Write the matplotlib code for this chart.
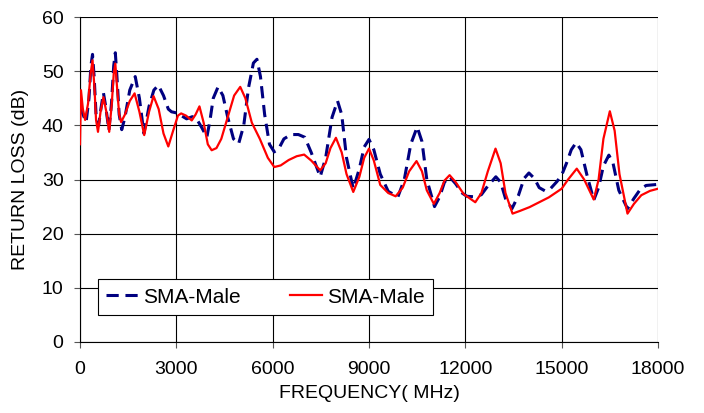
import matplotlib
matplotlib.use("Agg")
import matplotlib.pyplot as plt

freq_blue = [0, 60, 190, 280, 340, 390, 440, 500, 580, 650, 730, 800, 900, 980, 1050, 1100, 1150, 1220, 1300, 1400, 1550, 1720, 1850, 1990, 2150, 2300, 2440, 2600, 2750, 2850, 3000, 3150, 3320, 3500, 3650, 3800, 3950, 4050, 4150, 4300, 4450, 4600, 4780, 4940, 5100, 5250, 5400, 5510, 5620, 5750, 5900, 6050, 6200, 6350, 6570, 6800, 7000, 7200, 7480, 7650, 7850, 8020, 8150, 8300, 8510, 8700, 8850, 9000, 9150, 9350, 9600, 9900, 10100, 10300, 10500, 10650, 10800, 11040, 11200, 11350, 11510, 11700, 11900, 12050, 12300, 12500, 12700, 12950, 13100, 13250, 13450, 13650, 13830, 13980, 14150, 14300, 14480, 14650, 14850, 15000, 15150, 15300, 15450, 15600, 15780, 16000, 16150, 16300, 16470, 16600, 16780, 17050, 17250, 17450, 17630, 18000]
rl_blue = [43.5, 42.5, 40.6, 45, 51, 53.1, 49, 42, 40.0, 43, 46.0, 43.5, 39.1, 44, 51, 53.4, 49, 42, 39.2, 41.5, 46.5, 49.0, 45, 38.5, 43.5, 46.5, 47.4, 45.5, 43, 42.5, 42.3, 41.8, 41.2, 41.6, 41, 39.5, 37.8, 41, 45, 47.1, 45.5, 41.5, 37.5, 36.6, 40, 47, 51.5, 52.2, 49, 42, 36.5, 35.1, 35.8, 37.5, 38.3, 38.3, 37.8, 35, 30.5, 34, 41.5, 44.5, 42, 34, 28.3, 32, 36, 37.4, 35.5, 31, 27.8, 26.8, 30, 36.5, 39.7, 37, 30, 25.0, 26.8, 29.5, 30.5, 29.2, 27.5, 26.9, 26.8, 27.2, 28.8, 30.5, 29.5, 26.5, 24.6, 27, 30.2, 31.2, 30.2, 28.5, 27.9, 28.3, 29.6, 30.8, 33, 35.5, 36.8, 35.5, 31, 26.2, 28.5, 32.5, 34.5, 33, 28, 24.6, 26.5, 28.2, 28.9, 29.1]

freq_red = [0, 30, 90, 160, 250, 330, 390, 450, 500, 560, 640, 730, 820, 910, 990, 1050, 1100, 1160, 1220, 1280, 1400, 1550, 1700, 1850, 2000, 2150, 2290, 2450, 2600, 2750, 2900, 3050, 3150, 3300, 3480, 3600, 3720, 3850, 3980, 4100, 4250, 4400, 4600, 4800, 4990, 5150, 5350, 5600, 5850, 6050, 6250, 6500, 6750, 6980, 7200, 7480, 7650, 7800, 7970, 8150, 8300, 8510, 8700, 8850, 9000, 9150, 9350, 9600, 9830, 10050, 10250, 10480, 10650, 10800, 11020, 11200, 11350, 11510, 11700, 11950, 12310, 12500, 12700, 12940, 13100, 13250, 13470, 13700, 14000, 14300, 14600, 15000, 15200, 15470, 15700, 16000, 16150, 16300, 16500, 16650, 16800, 17050, 17250, 17480, 17750, 18000]
rl_red = [36.5, 46.5, 43, 41, 44, 49.5, 52, 47, 41, 38.8, 42.5, 45.2, 42.5, 38.8, 44, 49.5, 51.4, 46.5, 42, 40.6, 42, 44.5, 45.9, 42.5, 38.2, 42.5, 45.4, 43, 38.5, 36.1, 39, 41.8, 42.2, 41.8, 40.9, 42, 43.5, 40.5, 36.5, 35.4, 35.8, 37.5, 41.5, 45.5, 47.1, 45, 40.5, 37.5, 34, 32.3, 32.6, 33.6, 34.3, 34.6, 33.5, 31.7, 33, 35.8, 37.7, 35, 31, 27.7, 30.5, 34, 35.7, 33.5, 29, 27.5, 26.9, 28.5, 31.5, 33.4, 31.5, 28, 25.5, 27.5, 29.8, 30.8, 29.5, 27.3, 25.8, 27.5, 31.5, 35.7, 33, 27.5, 23.7, 24.2, 24.9, 25.8, 26.7, 28.3, 30, 32.0, 30, 26.3, 30, 37.5, 42.6, 39, 31, 23.7, 25.5, 27.1, 27.9, 28.3]

labels = ["SMA-Male", "SMA-Male"]
x_ticks = [0, 3000, 6000, 9000, 12000, 15000, 18000]
y_ticks = [0, 10, 20, 30, 40, 50, 60]

plt.rcParams['font.family'] = ['Liberation Sans', 'DejaVu Sans']

fig = plt.figure(figsize=(7.04, 4.13), dpi=100)
ax = fig.add_axes([80/704, 1-342/413, 578/704, 325/413])

ax.plot(freq_blue, rl_blue, color='#000080', lw=2.2, linestyle=(0, (4, 2.2)), label=labels[0], zorder=3)
ax.plot(freq_red, rl_red, color='#FF0000', lw=1.6, label=labels[1], zorder=4)

ax.set_xlim(0, 18000)
ax.set_ylim(0, 60)
ax.set_xticks(x_ticks)
ax.set_yticks(y_ticks)
ax.tick_params(labelsize=14, length=4.3, width=0.8, color='#555555', direction='out')
ax.tick_params(axis='x', pad=9.5)
ax.tick_params(axis='y', pad=7.5)
ax.grid(True, color='black', lw=0.8)
ax.set_axisbelow(True)
for s in ax.spines.values():
    s.set_color('black')
    s.set_linewidth(0.8)
ax.spines['right'].set_visible(False)
ax.spines['top'].set_visible(False)

ax.set_xlabel("FREQUENCY( MHz)", fontsize=14, labelpad=5)
ax.set_ylabel("RETURN LOSS (dB)", fontsize=14, labelpad=9)

leg = ax.legend(loc='lower left', bbox_to_anchor=(0.031, 0.083), ncol=2, fontsize=15,
                frameon=True, fancybox=False, framealpha=1, edgecolor='black',
                handlelength=1.5, columnspacing=2.4, borderpad=0.4, handletextpad=0.25,
                borderaxespad=0)
leg.get_frame().set_linewidth(0.8)

fig.savefig("out.png", dpi=100)
